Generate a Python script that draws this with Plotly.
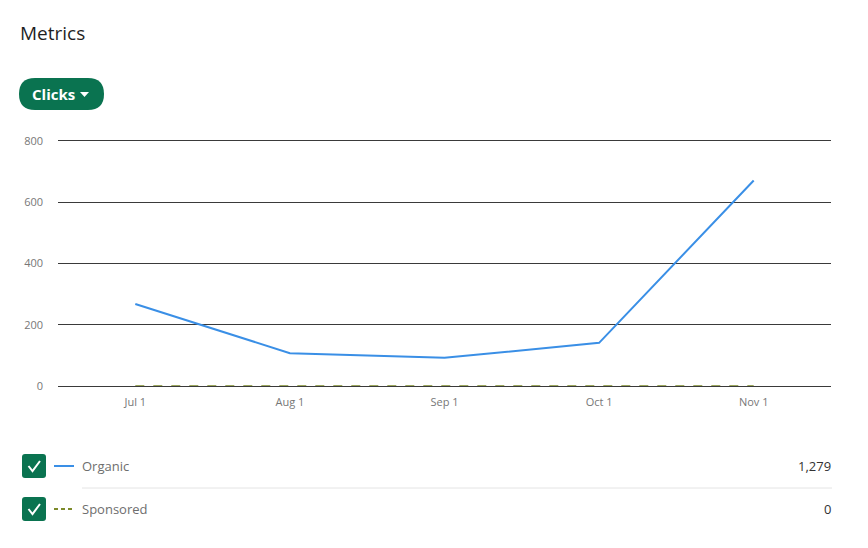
import plotly.graph_objects as go

months = ["Jul 1", "Aug 1", "Sep 1", "Oct 1", "Nov 1"]
organic = [268, 107, 92, 141, 671]
sponsored = [0, 0, 0, 0, 0]
y_ticks = [0, 200, 400, 600, 800]
legend_names = ["Organic", "Sponsored"]
legend_totals = ["1,279", "0"]

BLUE = "#3a8fe6"
OLIVE = "#7c8a2a"
GREEN = "#0a7350"
FONT = "Open Sans, Noto Sans, sans-serif"

OFF = 8  # page body margin
W, H = 868 - OFF, 548 - OFF
L, R, T, B = 58, 831, 141, 386


def px(x):
    return (x - L) / (R - L)


def py(y):
    return (B - y) / (B - T)


def rrect(x0, y0, x1, y1, r):
    def P(x, y):
        return f"{px(x):.5f},{py(y):.5f}"
    return (f"M {P(x0 + r, y0)} L {P(x1 - r, y0)} Q {P(x1, y0)} {P(x1, y0 + r)} "
            f"L {P(x1, y1 - r)} Q {P(x1, y1)} {P(x1 - r, y1)} "
            f"L {P(x0 + r, y1)} Q {P(x0, y1)} {P(x0, y1 - r)} "
            f"L {P(x0, y0 + r)} Q {P(x0, y0)} {P(x0 + r, y0)} Z")


fig = go.Figure()
fig.add_trace(go.Scatter(x=months, y=organic, mode="lines", name=legend_names[0],
                         line=dict(color=BLUE, width=2)))
fig.add_trace(go.Scatter(x=months, y=sponsored, mode="lines", name=legend_names[1],
                         line=dict(color=OLIVE, width=1.5, dash="dash")))

shapes = []
annotations = []

annotations.append(dict(text="Metrics", x=px(18), y=py(33), xref="paper", yref="paper",
                        xanchor="left", yanchor="middle", showarrow=False,
                        font=dict(size=19, color="#1f1f1f", family=FONT)))
shapes.append(dict(type="path", path=rrect(19, 78, 104, 110, 16), xref="paper", yref="paper",
                   fillcolor=GREEN, line=dict(width=0), layer="above"))
annotations.append(dict(text="<b>Clicks</b>", x=px(30), y=py(94), xref="paper", yref="paper",
                        xanchor="left", yanchor="middle", showarrow=False,
                        font=dict(size=15, color="white", family=FONT)))
shapes.append(dict(type="path",
                   path=f"M {px(80):.5f},{py(92):.5f} L {px(89):.5f},{py(92):.5f} L {px(84.5):.5f},{py(97):.5f} Z",
                   xref="paper", yref="paper", fillcolor="white", line=dict(width=0), layer="above"))

rows = [466, 509]
colors = [BLUE, OLIVE]
for i, yc in enumerate(rows):
    shapes.append(dict(type="path", path=rrect(22, yc - 12, 46, yc + 12, 3), xref="paper", yref="paper",
                       fillcolor=GREEN, line=dict(width=0), layer="above"))
    shapes.append(dict(type="path",
                       path=f"M {px(28.5):.5f},{py(yc):.5f} L {px(32.5):.5f},{py(yc + 5):.5f} L {px(40):.5f},{py(yc - 5):.5f}",
                       xref="paper", yref="paper", line=dict(color="white", width=2), layer="above"))
    shapes.append(dict(type="line", x0=px(54), x1=px(74), y0=py(yc), y1=py(yc), xref="paper", yref="paper",
                       line=dict(color=colors[i], width=2, dash="solid" if i == 0 else "4px,3px"),
                       layer="above"))
    annotations.append(dict(text=legend_names[i], x=px(80), y=py(yc), xref="paper", yref="paper",
                            xanchor="left", yanchor="middle", showarrow=False,
                            font=dict(size=13, color="#6e6e6e", family=FONT)))
    annotations.append(dict(text=legend_totals[i], x=px(833), y=py(yc), xref="paper", yref="paper",
                            xanchor="right", yanchor="middle", showarrow=False,
                            font=dict(size=13, color="#333333", family=FONT)))

shapes.append(dict(type="line", x0=px(82), x1=px(832), y0=py(488), y1=py(488), xref="paper", yref="paper",
                   line=dict(color="#e4e4e4", width=1)))

fig.update_layout(
    width=W, height=H,
    margin=dict(l=L - OFF, r=W - (R - OFF), t=T - OFF, b=H - (B - OFF), pad=0),
    paper_bgcolor="white", plot_bgcolor="white",
    showlegend=False,
    shapes=shapes, annotations=annotations,
    font=dict(family=FONT),
    xaxis=dict(type="category", range=[-0.5, 4.5], showgrid=False, zeroline=False,
               showline=True, mirror=True, linecolor="#3a3a3a", linewidth=1,
               ticks="", tickfont=dict(size=11, color="#777777"),
               ticklabelstandoff=6, fixedrange=True),
    yaxis=dict(range=[0, 800], tickvals=y_ticks, showgrid=True, gridcolor="#3a3a3a", gridwidth=1,
               zeroline=True, zerolinecolor="#3a3a3a", zerolinewidth=1, showline=False, ticks="",
               tickfont=dict(size=11, color="#777777"), ticklabelstandoff=14, fixedrange=True),
)

fig.write_html("out.html")
